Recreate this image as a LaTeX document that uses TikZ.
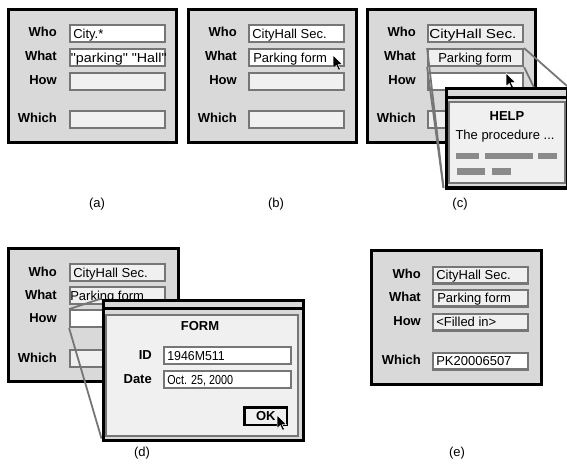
\documentclass[tikz,border=0pt]{standalone}
\usepackage{graphicx}
\usepackage{fontspec}
\newfontfamily\uifont{Liberation Sans}
\usetikzlibrary{calc}

\definecolor{panelgray}{HTML}{D9D9D9}
\definecolor{fieldgray}{HTML}{767676}
\definecolor{fieldfill}{HTML}{F0F0F0}
\definecolor{bargray}{HTML}{8A8A8A}

\tikzset{
  every node/.style={font=\uifont\fontsize{13}{15}\selectfont},
  panel/.style={draw=black, line width=2.6pt, fill=panelgray},
  field/.style={draw=fieldgray, line width=2.2pt, fill=fieldfill, anchor=north west,
    minimum width=94.8pt, minimum height=16.8pt, inner sep=0pt},
  lab/.style={anchor=east, inner sep=0pt, text height=10.5pt, text depth=1.5pt,
    font=\uifont\bfseries\fontsize{13}{15}\selectfont},
  val/.style={anchor=west, inner sep=0pt, text height=10.5pt, text depth=1.5pt},
  proj/.style={draw=fieldgray, line width=1.8pt},
  popbox/.style={draw=black, line width=3pt, fill=panelgray, anchor=north west, inner sep=0pt},
  titlebar/.style={draw=black, line width=2.4pt},
  pointer/.pic={
    \draw[fill=black, draw=white, line width=0.5pt, line join=miter, scale=0.9]
      (0,0) -- (0,15) -- (3.6,11.6) -- (6.2,17) -- (8.4,16) -- (5.8,10.8) -- (10.6,10.8) -- cycle;
  }
}

\begin{document}
\begin{tikzpicture}[x=1pt, y=-1pt]
  \useasboundingbox (0,0) rectangle (567,465);

  % (a)
  \begin{scope}[shift={(7,8)}]
    \draw[panel] (1.3,1.3) rectangle (169.7,134.7);
    \foreach \t/\y in {Who/24.5, What/48.5, How/72.5, Which/110.5}
      \node[lab] (a\t) at (50,\y) {\t};
    \node[field, fill=white] (awhof) at (62.1,16.1) {};
    \node[field, fill=white] (awhatf) at (62.1,40.1) {};
    \node[field] (ahowf) at (62.1,64.1) {};
    \node[field] (awhichf) at (62.1,102.1) {};
    \node[val] (awhot) at ([xshift=4pt]awhof.west) {City.*};
    \node[val] (awhatt) at ([xshift=1.5pt]awhatf.west) {\scalebox{1.1}[1]{"parking" "Hall"}};
  \end{scope}
  \node (capa) at (97,204) {(a)};

  % (b)
  \begin{scope}[shift={(187,8)}]
    \draw[panel] (1.3,1.3) rectangle (169.7,134.7);
    \foreach \t/\y in {Who/24.5, What/48.5, How/72.5, Which/110.5}
      \node[lab] (b\t) at (50,\y) {\t};
    \node[field, fill=white] (bwhof) at (61.1,16.1) {};
    \node[field, fill=white] (bwhatf) at (61.1,40.1) {};
    \node[field] (bhowf) at (61.1,64.1) {};
    \node[field] (bwhichf) at (61.1,102.1) {};
    \node[val] (bwhot) at ([xshift=4pt]bwhof.west) {CityHall Sec.};
    \node[val] (bwhatt) at ([xshift=5pt]bwhatf.west) {Parking form};
  \end{scope}
  \pic (bcur) at (333,55) {pointer};
  \node (capb) at (276,204) {(b)};

  % (c)
  \begin{scope}[shift={(366,8)}]
    \draw[panel] (1.3,1.3) rectangle (169.7,134.7);
    \foreach \t/\y in {Who/24.5, What/48.5, How/72.5, Which/110.5}
      \node[lab] (c\t) at (50,\y) {\t};
    \node[field] (cwhof) at (61.1,16.1) {};
    \node[field] (cwhatf) at (61.1,40.1) {};
    \node[field, fill=white] (chowf) at (61.1,64.1) {};
    \node[field] (cwhichf) at (61.1,102.1) {};
    \node[val] (cwhot) at ([xshift=2pt]cwhof.west) {\scalebox{1.17}[1]{CityHall Sec.}};
    \node[val] (cwhatt) at ([xshift=11pt]cwhatf.west) {Parking form};
  \end{scope}
  \draw[proj] (cwhatf.north west) -- (443.5,188);
  \draw[proj] (cwhatf.south west) -- (443.5,188);
  \draw[proj] (cwhatf.north east) -- (567,86);
  \draw[proj] (cwhatf.south east) -- (545,110);
  \pic (ccur) at (506,73) {pointer};
  \node[popbox, minimum width=121.5pt, minimum height=99pt] (help) at (444.5,87.5) {};
  \draw[titlebar] ([yshift=-10pt]help.north west) -- ([yshift=-10pt]help.north east);
  \node[field, minimum width=115.6pt, minimum height=80.6pt] (helpin)
    at ([xshift=3.7pt, yshift=-13.7pt]help.north west) {};
  \node[font=\uifont\bfseries\fontsize{13}{15}\selectfont] (helpt) at (507,116) {HELP};
  \node (helptxt) at (505,136) {The procedure ...};
  \fill[bargray] (456,153) rectangle (479,159);
  \fill[bargray] (485,153) rectangle (533,159);
  \fill[bargray] (538,153) rectangle (557,159);
  \fill[bargray] (457,168) rectangle (485,175);
  \fill[bargray] (492,168) rectangle (511,175);
  \node (capc) at (460,204) {(c)};

  % (d)
  \begin{scope}[shift={(7,247)}]
    \draw[panel] (1.3,1.3) rectangle (171.7,134.7);
    \foreach \t/\y in {Who/24.5, What/47.5, How/70.5, Which/110.5}
      \node[lab] (d\t) at (50,\y) {\t};
    \node[field] (dwhof) at (62.1,16.1) {};
    \node[field] (dwhatf) at (62.1,39.1) {};
    \node[field, fill=white] (dhowf) at (62.1,62.1) {};
    \node[field] (dwhichf) at (62.1,102.1) {};
    \node[val] (dwhot) at ([xshift=4pt]dwhof.west) {CityHall Sec.};
    \node[val] (dwhatt) at ([xshift=1pt]dwhatf.west) {Parking form};
  \end{scope}
  \draw[proj] (dhowf.north west) -- (101.5,298.5);
  \draw[proj] (dhowf.south west) -- (101.5,438.5);
  \node[popbox, minimum width=200pt, minimum height=140pt] (form) at (101.5,298.5) {};
  \draw[titlebar] ([yshift=-10pt]form.north west) -- ([yshift=-10pt]form.north east);
  \node[field, minimum width=191.6pt, minimum height=120.6pt] (formin)
    at ([xshift=3.7pt, yshift=-15.7pt]form.north west) {};
  \node[font=\uifont\bfseries\fontsize{13}{15}\selectfont] (formt) at (200,326) {FORM};
  \node[lab] (fid) at (152,354.5) {ID};
  \node[lab] (fdate) at (152,378.5) {Date};
  \node[field, fill=white, minimum width=126.8pt] (fidf) at (163.1,346.1) {};
  \node[field, fill=white, minimum width=126.8pt] (fdatef) at (163.1,370.1) {};
  \node[val] (fidt) at ([xshift=4pt]fidf.west) {\scalebox{0.95}[1]{1946M511}};
  \node[val] (fdatet) at ([xshift=4pt]fdatef.west) {\scalebox{0.83}[1]{Oct. 25, 2000}};
  \node[draw=black, line width=2.5pt, fill=fieldfill, anchor=north west, inner sep=0pt,
    minimum width=42.6pt, minimum height=17.6pt,
    font=\uifont\bfseries\fontsize{13}{15}\selectfont] (ok) at (243.2,406.2) {OK};
  \pic (dcur) at (277,415) {pointer};
  \node (capd) at (142,453) {(d)};

  % (e)
  \begin{scope}[shift={(370,249)}]
    \draw[panel] (1.3,1.3) rectangle (171.7,135.7);
    \foreach \t/\y in {Who/25, What/48, How/72, Which/111}
      \node[lab] (e\t) at (51,\y) {\t};
    \node[field] (ewhof) at (62.1,16.6) {};
    \node[field] (ewhatf) at (62.1,39.6) {};
    \node[field] (ehowf) at (62.1,63.6) {};
    \node[field, fill=white] (ewhichf) at (62.1,102.6) {};
    \node[val] (ewhot) at ([xshift=4pt]ewhof.west) {CityHall Sec.};
    \node[val] (ewhatt) at ([xshift=5pt]ewhatf.west) {Parking form};
    \node[val] (ehowt) at ([xshift=4pt]ehowf.west) {<Filled in>};
    \node[val] (ewhicht) at ([xshift=4pt]ewhichf.west) {PK20006507};
  \end{scope}
  \node (cape) at (457,453) {(e)};
\end{tikzpicture}
\end{document}
